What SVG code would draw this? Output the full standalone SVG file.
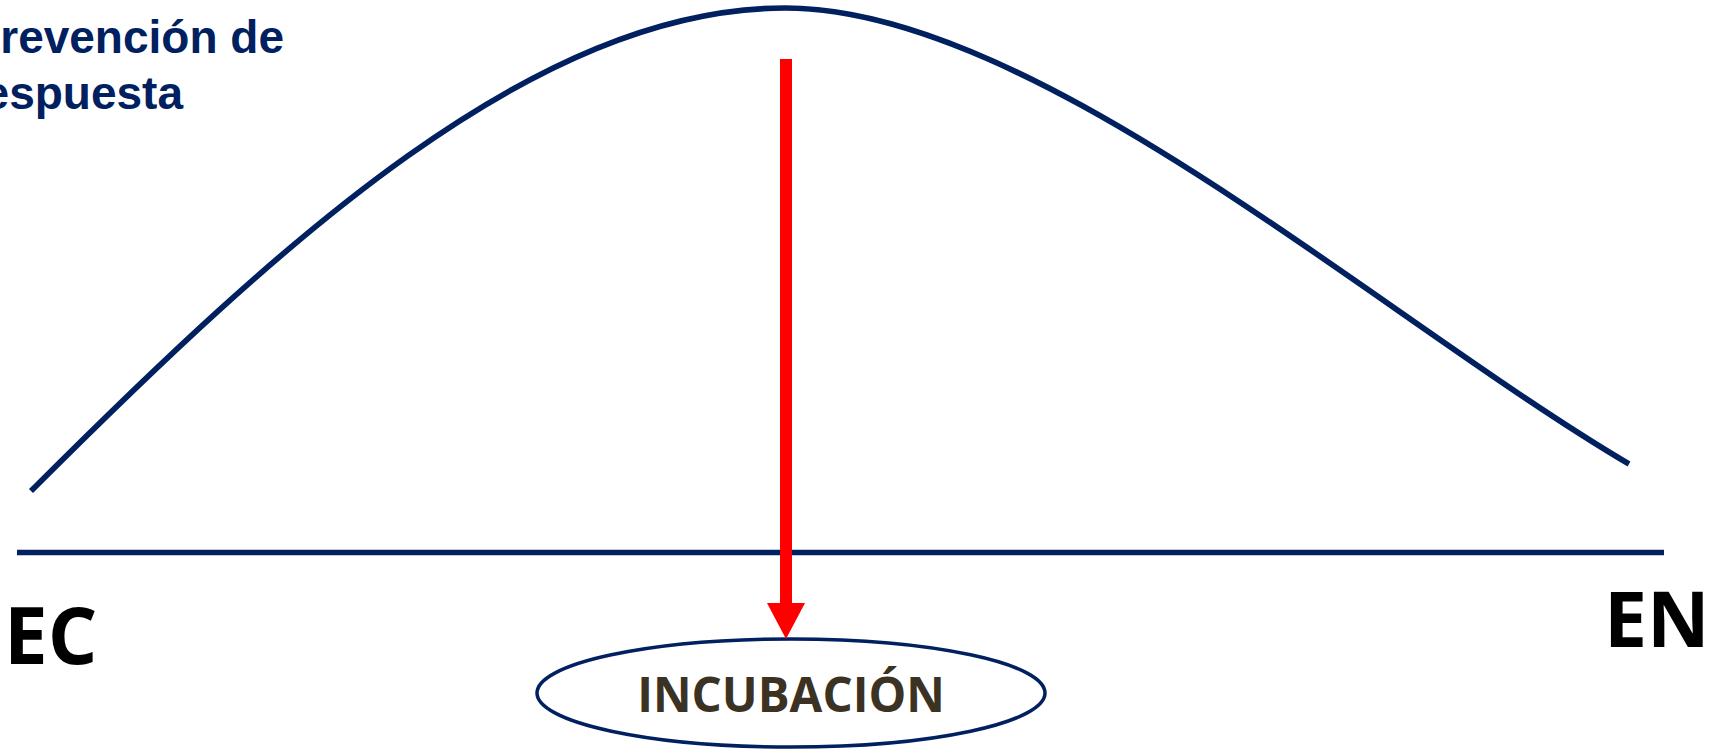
<svg xmlns="http://www.w3.org/2000/svg" width="1710" height="750" viewBox="0 0 1710 750">
<style>
.navy{fill:none;stroke:#002060;stroke-width:5.7}
.side{font-family:"Liberation Sans",Arial,sans-serif;font-weight:bold;font-size:46px;fill:#002060}
.big{font-family:"Open Sans","DejaVu Sans",sans-serif;font-weight:bold;fill:#000}
.lbl{font-family:"Open Sans","DejaVu Sans",sans-serif;font-weight:bold;font-size:47.5px;fill:#3b3224}
</style>
<defs>
<marker id="redHead" markerUnits="userSpaceOnUse" markerWidth="38" markerHeight="38" viewBox="0 0 36 38" refX="7" refY="19" orient="auto">
<path d="M0,0 L36,19 L0,38 z" fill="#ff0000"/>
</marker>
</defs>
<rect width="1710" height="750" fill="#fff"/>
<g id="side-text">
<text class="side" x="284" y="53" text-anchor="end">prevención de</text>
<text class="side" x="183" y="109" text-anchor="end">respuesta</text>
</g>
<g id="curve">
<path class="navy" d="M31,491 C281,241 535,8 785,8 C1035,8 1379,316.5 1629,464"/>
</g>
<g id="axis">
<line class="navy" x1="17" y1="552.5" x2="1664" y2="552.5"/>
</g>
<g id="label-EC">
<text class="big" x="4" y="664" font-size="78">EC</text>
</g>
<g id="label-EN">
<text class="big" x="1604" y="647" font-size="77">EN</text>
</g>
<g id="node-incubacion">
<ellipse cx="791" cy="693" rx="254" ry="54" fill="#fff" stroke="#002060" stroke-width="3.5"/>
<text class="lbl" x="791" y="712" text-anchor="middle">INCUBACIÓN</text>
</g>
<g id="connectors">
<line x1="786" y1="59" x2="786" y2="610" stroke="#ff0000" stroke-width="12" marker-end="url(#redHead)"/>
</g>
</svg>
